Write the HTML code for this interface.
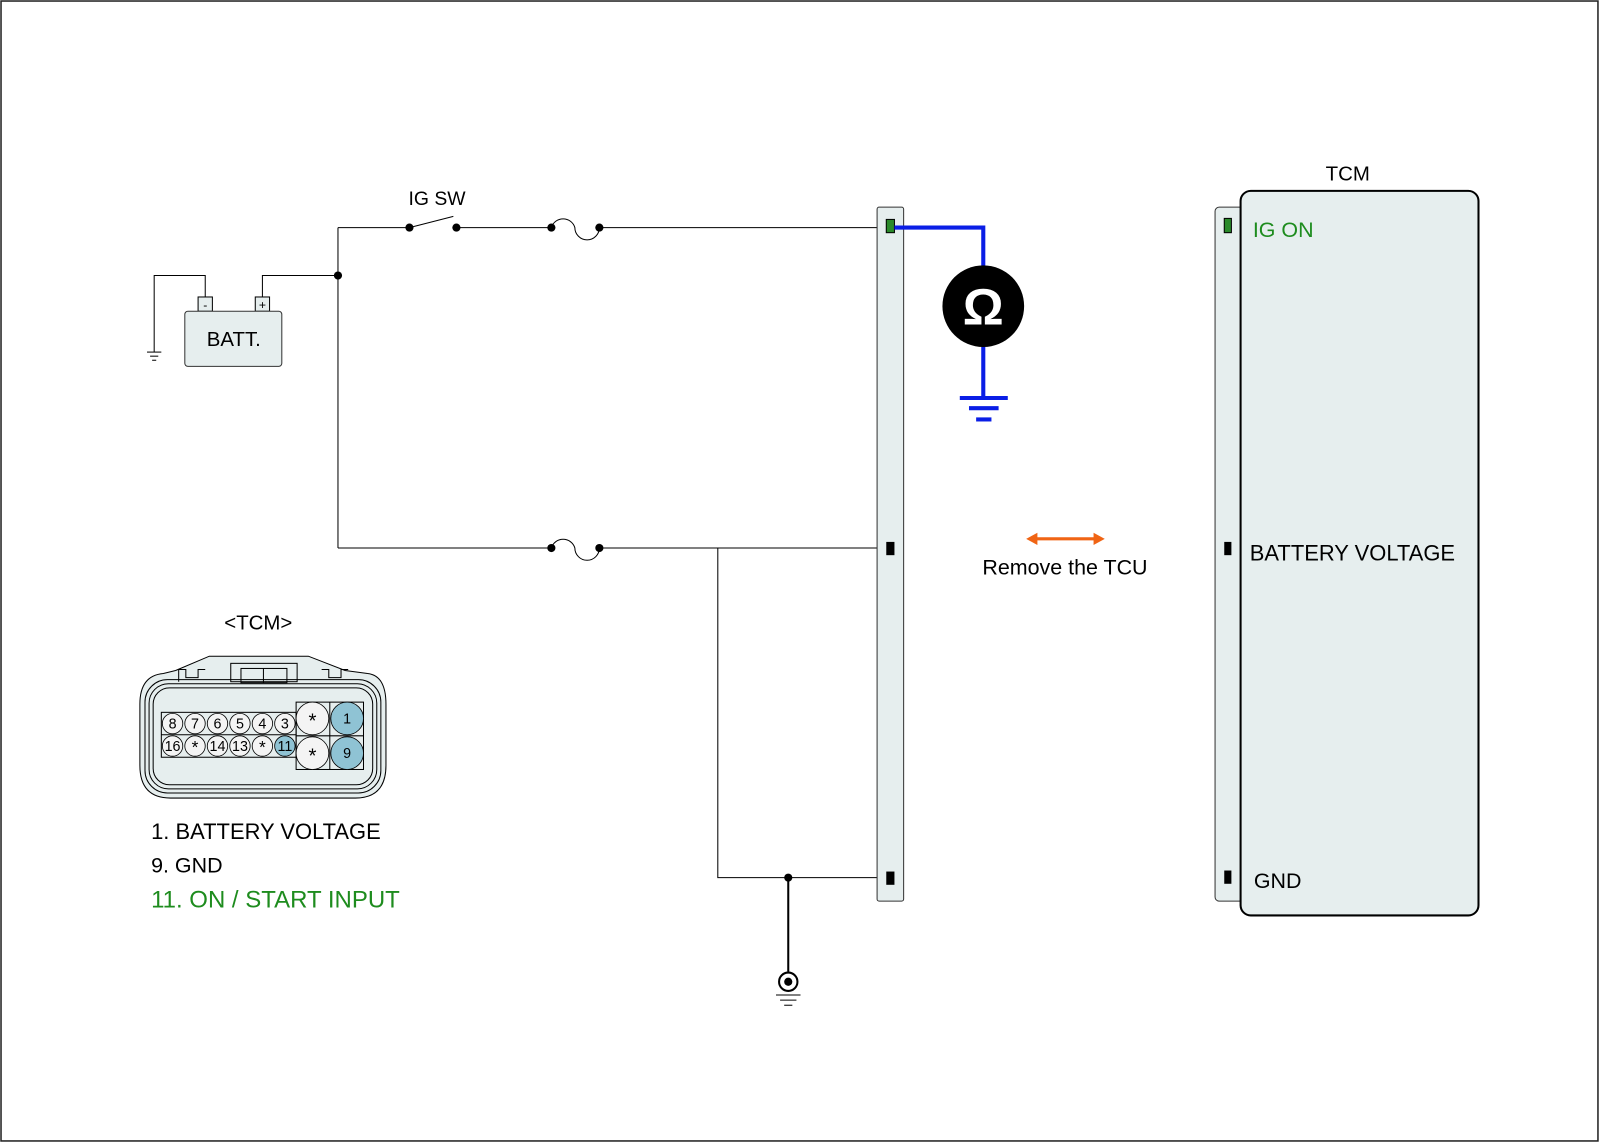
<!DOCTYPE html>
<html><head><meta charset="utf-8"><style>html,body{margin:0;padding:0;background:#fff}svg{display:block}text{font-family:"Liberation Sans",sans-serif}</style></head><body>
<svg width="1600" height="1143" viewBox="0 0 1567 1120" preserveAspectRatio="none" xmlns="http://www.w3.org/2000/svg">
<rect x="1" y="1" width="1564" height="1117" fill="#fff" stroke="#222" stroke-width="1.5"/>
<g stroke="#000" stroke-width="1" fill="none">
<polyline points="201,291 201,270 151,270 151,345"/>
<line x1="144" y1="345" x2="158" y2="345"/><line x1="147" y1="349" x2="155" y2="349"/><line x1="149" y1="353" x2="153" y2="353"/>
<polyline points="257,291 257,270 331,270"/>
<line x1="331" y1="223" x2="331" y2="537"/>
<line x1="331" y1="223" x2="401" y2="223"/>
<line x1="401" y1="223" x2="444" y2="212"/>
<line x1="447" y1="223" x2="540" y2="223"/>
<path d="M540,223 A12,12 0 0 1 563,223 A12,12 0 0 0 587,223"/>
<line x1="587" y1="223" x2="866" y2="223"/>
<line x1="331" y1="537" x2="540" y2="537"/>
<path d="M540,537 A12,12 0 0 1 563,537 A12,12 0 0 0 587,537"/>
<line x1="587" y1="537" x2="866" y2="537"/>
<polyline points="703,537 703,860 866,860"/>
<line x1="772" y1="860" x2="772" y2="952" stroke-width="2"/>
<circle cx="772" cy="962" r="9" stroke-width="2"/>
<line x1="760" y1="975" x2="784" y2="975"/><line x1="764" y1="980" x2="780" y2="980"/><line x1="768" y1="985" x2="776" y2="985"/>
</g>
<circle cx="772" cy="962" r="4" fill="#000"/>
<g fill="#000"><circle cx="331" cy="270" r="4"/><circle cx="401" cy="223" r="4"/><circle cx="447" cy="223" r="4"/><circle cx="540" cy="223" r="4"/><circle cx="587" cy="223" r="4"/><circle cx="540" cy="537" r="4"/><circle cx="587" cy="537" r="4"/><circle cx="772" cy="860" r="4"/></g>
<rect x="194" y="291" width="14" height="14" fill="#e6eeee" stroke="#000"/><text x="201" y="303" font-size="12" text-anchor="middle">-</text>
<rect x="250" y="291" width="14" height="14" fill="#e6eeee" stroke="#000"/><text x="257" y="303" font-size="12" text-anchor="middle">+</text>
<rect x="181" y="305" width="95" height="54" rx="3" fill="#e6eeee" stroke="#333"/>
<text x="229" y="339" font-size="20" text-anchor="middle">BATT.</text>
<text x="428" y="201" font-size="19" text-anchor="middle">IG SW</text>
<rect x="859" y="203" width="26" height="680" rx="2" fill="#e6eeee" stroke="#333"/>
<rect x="868" y="215" width="8" height="13" fill="#2a8a2a" stroke="#000"/>
<rect x="868" y="531" width="8" height="13" fill="#000"/>
<rect x="868" y="854" width="8" height="13" fill="#000"/>
<g stroke="#0a1ee6" stroke-width="4" fill="none">
<polyline points="876,223 963,223 963,262"/><line x1="963" y1="338" x2="963" y2="390"/>
<line x1="940" y1="390" x2="987" y2="390"/><line x1="949" y1="400" x2="978" y2="400"/><line x1="956" y1="411" x2="971" y2="411"/>
</g>
<circle cx="963" cy="300" r="40" fill="#000"/>
<text x="963" y="318" font-size="50" font-weight="bold" fill="#fff" text-anchor="middle">Ω</text>
<g stroke="#f06414" stroke-width="3" fill="#f06414">
<line x1="1012" y1="528" x2="1075" y2="528"/>
<polygon points="1005,528 1016,522 1016,534" stroke="none"/><polygon points="1082,528 1071,522 1071,534" stroke="none"/>
</g>
<text x="1043" y="563" font-size="21" text-anchor="middle">Remove the TCU</text>
<text x="1320" y="177" font-size="20" text-anchor="middle">TCM</text>
<rect x="1190" y="203" width="30" height="680" rx="4" fill="#e6eeee" stroke="#333"/>
<rect x="1215" y="187" width="233" height="710" rx="10" fill="#e6eeee" stroke="#000" stroke-width="2"/>
<rect x="1199" y="214" width="7" height="14" fill="#2a8a2a" stroke="#000"/>
<rect x="1199" y="531" width="7" height="13" fill="#000"/>
<rect x="1199" y="853" width="7" height="13" fill="#000"/>
<text x="1227" y="232" font-size="21" fill="#1e8c1e">IG ON</text>
<text x="1224" y="549" font-size="21.5">BATTERY VOLTAGE</text>
<text x="1228" y="870" font-size="21">GND</text>
<text x="253" y="617" font-size="20" text-anchor="middle">&lt;TCM&gt;</text>
<g stroke="#000" fill="none" stroke-width="1">
<path d="M172,657 L205,643 L302,643 L338,657 L360,660 Q378,662 378,690 L378,750 Q378,782 348,782 L167,782 Q137,782 137,750 L137,690 Q137,662 160,660 Z" fill="#e6eeee"/>
<rect x="142" y="666" width="231" height="111" rx="22"/>
<rect x="146" y="670" width="223" height="103" rx="19"/>
<rect x="150" y="674" width="215" height="95" rx="16" fill="#e6eeee"/>
<polyline points="175,668 175,656 182,656 182,664 194,664 194,656 201,656"/>
<polyline points="315,656 322,656 322,664 334,664 334,656 341,656"/>
<rect x="226" y="650" width="65" height="18"/><rect x="236" y="655" width="45" height="14"/><line x1="258" y1="655" x2="258" y2="669"/>
<rect x="158" y="698" width="132" height="44"/><line x1="158" y1="720" x2="290" y2="720"/>
<rect x="290" y="688" width="66" height="66"/><line x1="323" y1="688" x2="323" y2="754"/><line x1="290" y1="721" x2="356" y2="721"/>
</g>
<g stroke="#000" stroke-width="0.8" font-size="13" text-anchor="middle">
<circle cx="169" cy="709" r="10" fill="#f4f4f4"/><circle cx="191" cy="709" r="10" fill="#f4f4f4"/><circle cx="213" cy="709" r="10" fill="#f4f4f4"/><circle cx="235" cy="709" r="10" fill="#f4f4f4"/><circle cx="257" cy="709" r="10" fill="#f4f4f4"/><circle cx="279" cy="709" r="10" fill="#f4f4f4"/>
<circle cx="169" cy="731" r="10" fill="#f4f4f4"/><circle cx="191" cy="731" r="10" fill="#f4f4f4"/><circle cx="213" cy="731" r="10" fill="#f4f4f4"/><circle cx="235" cy="731" r="10" fill="#f4f4f4"/><circle cx="257" cy="731" r="10" fill="#f4f4f4"/><circle cx="279" cy="731" r="10" fill="#8fc3d4"/>
<circle cx="306" cy="704" r="16" fill="#f4f4f4"/><circle cx="340" cy="704" r="16" fill="#8fc3d4"/>
<circle cx="306" cy="738" r="16" fill="#f4f4f4"/><circle cx="340" cy="738" r="16" fill="#8fc3d4"/>
</g>
<g font-size="14" text-anchor="middle" fill="#000">
<text x="169" y="714">8</text><text x="191" y="714">7</text><text x="213" y="714">6</text><text x="235" y="714">5</text><text x="257" y="714">4</text><text x="279" y="714">3</text>
<text x="169" y="736">16</text><text x="191" y="738" font-size="17">*</text><text x="213" y="736">14</text><text x="235" y="736">13</text><text x="257" y="738" font-size="17">*</text><text x="279" y="736">11</text>
<text x="306" y="713" font-size="20">*</text><text x="340" y="709">1</text><text x="306" y="747" font-size="20">*</text><text x="340" y="743">9</text>
</g>
<text x="148" y="822" font-size="21.5">1. BATTERY VOLTAGE</text>
<text x="148" y="855" font-size="21">9. GND</text>
<text x="148" y="889" font-size="23.5" fill="#1e8c1e">11. ON / START INPUT</text>
</svg>
</body></html>
